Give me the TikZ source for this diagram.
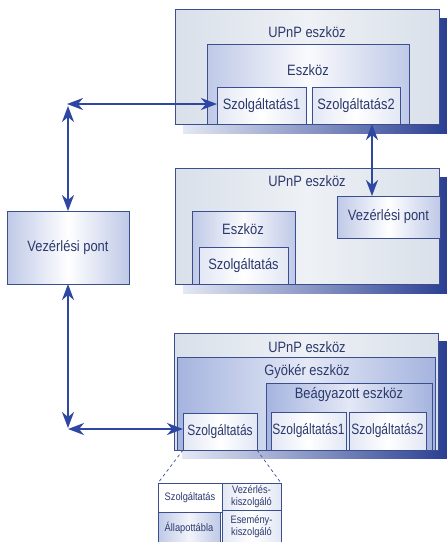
\documentclass[tikz,border=0pt]{standalone}
\usepackage{fontspec}
\setmainfont{Liberation Sans}[FakeStretch=0.86]
\newfontfamily\narrowsans{Liberation Sans}[FakeStretch=0.80]
\usetikzlibrary{arrows.meta}

\definecolor{ink}{HTML}{2C396E}
\definecolor{edge}{HTML}{3B4E8E}
\definecolor{wire}{HTML}{2E47A0}
\definecolor{shadowdark}{HTML}{2A3F92}
\definecolor{shadowlight}{HTML}{E3E8F3}
\definecolor{panel}{HTML}{D9E0EA}
\definecolor{panellight}{HTML}{EEF1F5}
\definecolor{devblue}{HTML}{BFC9E7}
\definecolor{rootblue}{HTML}{A5B4DF}
\definecolor{svcblue}{HTML}{E2E7F4}

\begin{document}
\begin{tikzpicture}[x=1pt,y=-1pt,
  every node/.style={text=ink, font=\fontsize{15}{17}\selectfont},
  boxbase/.style={draw=edge, line width=1pt, anchor=north west,
    inner sep=0pt, outer sep=0pt},
  panelbox/.style={boxbase, left color=panel, right color=panel, middle color=panellight},
  devbox/.style={boxbase, left color=devblue, right color=devblue, middle color=white!92!devblue},
  rootbox/.style={boxbase, left color=rootblue, right color=rootblue, middle color=white!70!rootblue},
  svcbox/.style={boxbase, left color=svcblue, right color=svcblue, middle color=white},
  cpbox/.style={boxbase, left color=devblue, right color=devblue, middle color=white},
  narrow/.style={font=\narrowsans\fontsize{15}{17}\selectfont},
  title/.style={anchor=center, inner sep=0pt},
  small/.style={font=\fontsize{10.8}{12}\selectfont, align=center, inner sep=0pt},
  dropshadow/.style={left color=shadowlight, right color=shadowdark},
  link/.style={draw=wire, line width=2pt,
    {Stealth[length=16pt,width=12pt,inset=5pt]}-{Stealth[length=16pt,width=12pt,inset=5pt]}},
]
\useasboundingbox (0,0) rectangle (447,542);
\fill[white] (0,0) rectangle (447,542);
\clip (0,0) rectangle (447,542);

% ---------- first UPnP device: one device with two services ----------
\fill[dropshadow] (183,18) rectangle (447,133);
\node[panelbox, minimum width=264pt, minimum height=115pt] (u1) at (175,9) {};
\node[title] (u1t) at (307,32) {UPnP eszköz};
\node[devbox, minimum width=202pt, minimum height=80pt] (e1) at (207,44) {};
\node[title] (e1t) at (308,70) {Eszköz};
\node[svcbox, minimum width=89pt, minimum height=37pt] (s11) at (217,87) {Szolgáltatás1};
\node[svcbox, minimum width=88pt, minimum height=37pt] (s12) at (312,87) {Szolgáltatás2};

% ---------- second UPnP device: device plus embedded control point ----------
\fill[dropshadow] (183,177) rectangle (447,293);
\node[panelbox, minimum width=264pt, minimum height=116pt] (u2) at (175,168) {};
\node[title] (u2t) at (307,181) {UPnP eszköz};
\node[devbox, minimum width=103pt, minimum height=73pt] (e2) at (192,211) {};
\node[title] (e2t) at (243,229) {Eszköz};
\node[svcbox, minimum width=89pt, minimum height=37pt] (s2) at (199,247) {Szolgáltatás};
\node[cpbox, minimum width=103pt, minimum height=42pt] (v2) at (337,196) {Vezérlési pont};

% ---------- stand-alone control point ----------
\node[cpbox, minimum width=122pt, minimum height=73pt] (vp) at (7,211) {Vezérlési pont};

% ---------- third UPnP device: root device with embedded device ----------
\fill[dropshadow] (182,341) rectangle (447,458);
\node[panelbox, minimum width=264pt, minimum height=117pt] (u3) at (174,333) {};
\node[title] (u3t) at (307,347) {UPnP eszköz};
\node[rootbox, minimum width=258pt, minimum height=93pt] (g3) at (177,357) {};
\node[title] (g3t) at (307,372) {Gyökér eszköz};
\node[rootbox, minimum width=166pt, minimum height=67pt] (b3) at (266,383) {};
\node[title] (b3t) at (349,395) {Beágyazott eszköz};
\node[svcbox, narrow, minimum width=74pt, minimum height=37pt] (s3) at (183,413) {Szolgáltatás};
\node[svcbox, narrow, minimum width=75pt, minimum height=38pt] (s31) at (271,412) {Szolgáltatás1};
\node[svcbox, narrow, minimum width=77pt, minimum height=38pt] (s32) at (349,412) {Szolgáltatás2};

% ---------- service detail ----------
\node[boxbase, fill=white, minimum width=123pt, minimum height=60pt] (det) at (158,483) {};
\node[boxbase, fill=white, minimum width=64pt, minimum height=29pt, small] (d1) at (158,483) {Szolgáltatás};
\node[boxbase, left color=devblue, right color=devblue, middle color=white!80!devblue,
  minimum width=62pt, minimum height=31pt, small] (d2) at (158,512) {Állapottábla};
\node[svcbox, minimum width=59pt, minimum height=27pt, small] (d3) at (222,483) {Vezérlés-\\kiszolgáló};
\node[svcbox, minimum width=59pt, minimum height=33pt, small] (d4) at (222,510) {Esemény-\\kiszolgáló};
\draw[edge, dashed, line width=0.7pt] (s3.south west) -- (det.north west);
\draw[edge, dashed, line width=0.7pt] (s3.south east) -- (det.north east);

% ---------- connections ----------
\coordinate (jt) at (67,104);
\coordinate (jtv) at (68,106);
\coordinate (jb) at (68,429);
\coordinate (jbv) at (68,428);
\draw[link] (jt) -- (s11.west |- jt);
\draw[link] (jtv) -- (vp.north -| jtv);
\draw[link] (vp.south -| jbv) -- (jbv);
\draw[link] (jb) -- (s3.west |- jb);
\draw[link] (s12.south -| 372,0) -- (v2.north -| 372,0);
\end{tikzpicture}
\end{document}
